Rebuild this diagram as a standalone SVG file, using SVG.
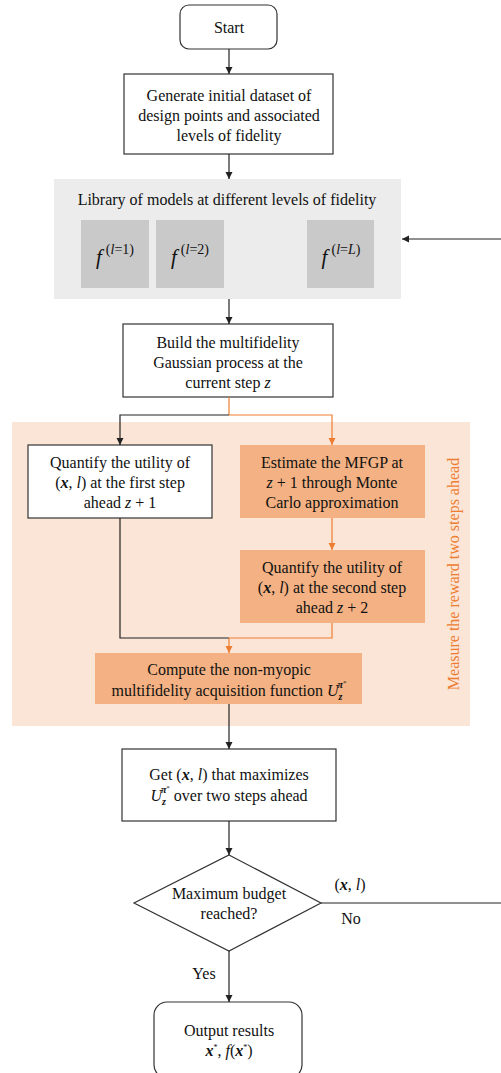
<svg xmlns="http://www.w3.org/2000/svg" width="501" height="1073" viewBox="0 0 501 1073">
<style>
text{font-family:'Liberation Serif','DejaVu Serif',serif;font-size:16px;fill:#111;text-anchor:middle}
.box{fill:#fff;stroke:#333;stroke-width:1.2}
.obox{fill:#f4b183;stroke:none}
.lib{fill:#c9c9c9}
.k{fill:none;stroke:#222;stroke-width:1.2}
.o{fill:none;stroke:#ed7d31;stroke-width:1.2}
.mi{font-style:italic}
.bi{font-style:italic;font-weight:bold}
</style>
<defs>
<marker id="ak" markerWidth="8" markerHeight="8" refX="7" refY="4" orient="auto" markerUnits="userSpaceOnUse"><path d="M0,0.5 L7,4 L0,7.5 Z" fill="#222"/></marker>
<marker id="ao" markerWidth="8" markerHeight="8" refX="7" refY="4" orient="auto" markerUnits="userSpaceOnUse"><path d="M0,0.5 L7,4 L0,7.5 Z" fill="#ed7d31"/></marker>
</defs>
<rect x="0" y="0" width="501" height="1073" fill="#fff"/>
<g id="panel-library"><rect x="54" y="179" width="347" height="120" fill="#ececec"/></g>
<g id="panel-reward"><rect x="12" y="422" width="458" height="304" fill="#fbe5d6"/>
<text transform="translate(459,574) rotate(-90)" style="fill:#ed7d31">Measure the reward two steps ahead</text></g>
<g id="start"><rect x="180" y="5" width="97" height="44" rx="9" class="box"/><text x="229" y="33">Start</text></g>
<g id="generate"><rect x="124" y="74" width="209" height="80" class="box"/>
<text x="229" y="101">Generate initial dataset of</text>
<text x="229" y="121">design points and associated</text>
<text x="229" y="141">levels of fidelity</text></g>
<g id="library"><text x="227" y="205">Library of models at different levels of fidelity</text>
<rect x="81" y="220" width="68" height="68" class="lib"/>
<rect x="156" y="220" width="68" height="68" class="lib"/>
<rect x="307" y="220" width="67" height="68" class="lib"/>
<text x="115" y="264" style="font-size:21px"><tspan class="mi">f</tspan><tspan dx="4" dy="-10" style="font-size:14px">(<tspan class="mi">l</tspan>=1)</tspan></text>
<text x="190" y="264" style="font-size:21px"><tspan class="mi">f</tspan><tspan dx="4" dy="-10" style="font-size:14px">(<tspan class="mi">l</tspan>=2)</tspan></text>
<text x="341" y="264" style="font-size:21px"><tspan class="mi">f</tspan><tspan dx="4" dy="-10" style="font-size:14px">(<tspan class="mi">l</tspan>=<tspan class="mi">L</tspan>)</tspan></text></g>
<g id="build"><rect x="123" y="324" width="210" height="73" class="box"/>
<text x="228" y="348">Build the multifidelity</text>
<text x="228" y="368">Gaussian process at the</text>
<text x="228" y="388">current step <tspan class="mi">z</tspan></text></g>
<g id="quantify1"><rect x="28" y="445" width="184" height="73" class="box"/>
<text x="120" y="468">Quantify the utility of</text>
<text x="120" y="488">(<tspan class="bi">x</tspan>, <tspan class="mi">l</tspan>) at the first step</text>
<text x="120" y="508">ahead <tspan class="mi">z</tspan> + 1</text></g>
<g id="estimate"><rect x="240" y="445" width="185" height="73" class="obox"/>
<text x="332" y="468">Estimate the MFGP at</text>
<text x="332" y="488"><tspan class="mi">z</tspan> + 1 through Monte</text>
<text x="332" y="508">Carlo approximation</text></g>
<g id="quantify2"><rect x="240" y="550" width="185" height="73" class="obox"/>
<text x="332" y="573">Quantify the utility of</text>
<text x="332" y="593">(<tspan class="bi">x</tspan>, <tspan class="mi">l</tspan>) at the second step</text>
<text x="332" y="613">ahead <tspan class="mi">z</tspan> + 2</text></g>
<g id="compute"><rect x="95" y="653" width="267" height="51" class="obox"/>
<text x="229" y="675">Compute the non-myopic</text>
<text x="229" y="696">multifidelity acquisition function <tspan class="mi">U</tspan><tspan class="bi" dy="4" style="font-size:10px">z</tspan><tspan dx="-5" dy="-12" style="font-size:10px;font-weight:bold;font-style:italic">π</tspan><tspan dy="-3" style="font-size:7px">*</tspan></text></g>
<g id="get"><rect x="122" y="749" width="214" height="72" class="box"/>
<text x="229" y="780">Get (<tspan class="bi">x</tspan>, <tspan class="mi">l</tspan>) that maximizes</text>
<text x="229" y="801"><tspan class="mi">U</tspan><tspan class="bi" dy="4" style="font-size:10px">z</tspan><tspan dx="-5" dy="-12" style="font-size:10px;font-weight:bold;font-style:italic">π</tspan><tspan dy="-3" style="font-size:7px">*</tspan><tspan dy="11"> over two steps ahead</tspan></text></g>
<g id="decision"><path d="M229,855 L321,903 L229,951 L134,903 Z" class="box"/>
<text x="229" y="899">Maximum budget</text>
<text x="229" y="919">reached?</text></g>
<g id="output"><rect x="154" y="1002" width="148" height="76" rx="13" class="box"/>
<text x="229" y="1036">Output results</text>
<text x="229" y="1056"><tspan class="bi">x</tspan><tspan dy="-6" style="font-size:8px">*</tspan><tspan dy="6">, </tspan><tspan class="mi">f</tspan>(<tspan class="bi">x</tspan><tspan dy="-6" style="font-size:8px">*</tspan><tspan dy="6">)</tspan></text></g>
<g id="connectors">
<path d="M229,49 V74" class="k" marker-end="url(#ak)"/>
<path d="M229,154 V179" class="k" marker-end="url(#ak)"/>
<path d="M501,239 H402" class="k" marker-end="url(#ak)"/>
<path d="M229,299 V324" class="k" marker-end="url(#ak)"/>
<path d="M229,397 V415" class="o"/>
<path d="M229,415 H120 V445" class="k" marker-end="url(#ak)"/>
<path d="M229,415 H332 V445" class="o" marker-end="url(#ao)"/>
<path d="M332,518 V550" class="o" marker-end="url(#ao)"/>
<path d="M120,518 V638 H229" class="k"/>
<path d="M332,623 V638 H229" class="o"/>
<path d="M229,638 V653" class="o" marker-end="url(#ao)"/>
<path d="M229,704 V749" class="k" marker-end="url(#ak)"/>
<path d="M229,821 V855" class="k" marker-end="url(#ak)"/>
<path d="M321,903 H501" class="k"/>
<path d="M229,951 V1002" class="k" marker-end="url(#ak)"/>
<text x="350" y="890">(<tspan class="bi">x</tspan>, <tspan class="mi">l</tspan>)</text>
<text x="351" y="924">No</text>
<text x="204" y="979">Yes</text>
</g>
</svg>
